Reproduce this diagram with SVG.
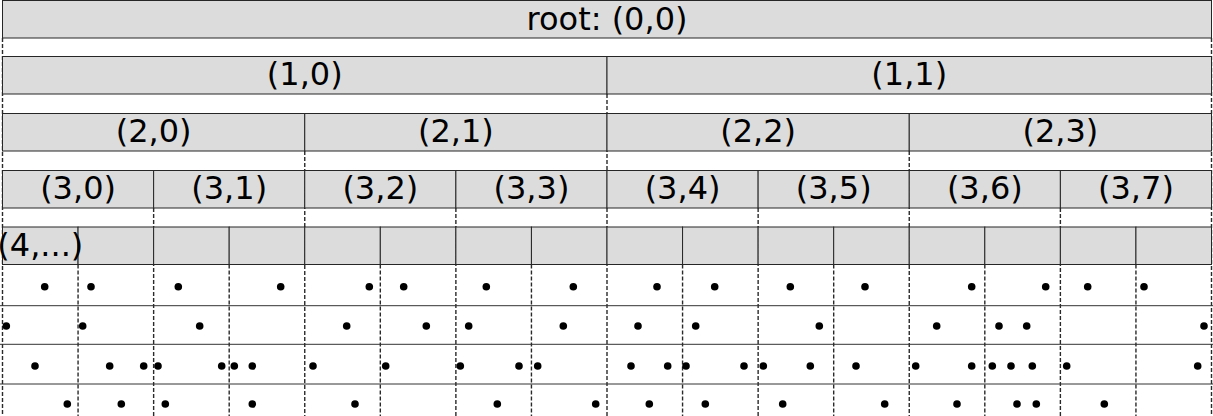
<svg xmlns="http://www.w3.org/2000/svg" width="1213" height="416" viewBox="0 0 1213 416">
<style>
.node rect{fill:#dcdcdc;stroke:#262626;stroke-width:1}
.node text{font-family:"DejaVu Sans",sans-serif;font-size:32px;text-anchor:middle;fill:#000}
.grid line{stroke:#333;stroke-width:1}
.grid line.d{stroke:#2a2a2a;stroke-width:1.4;stroke-dasharray:4 2}
.pts circle{fill:#000}
</style>
<rect width="1213" height="416" fill="#fff"/>
<g id="connectors" class="grid">
<line class="d" x1="2.5" y1="38" x2="2.5" y2="416"/>
<line class="d" x1="78.06" y1="264.5" x2="78.06" y2="416"/>
<line class="d" x1="153.63" y1="208" x2="153.63" y2="416"/>
<line class="d" x1="229.19" y1="264.5" x2="229.19" y2="416"/>
<line class="d" x1="304.75" y1="151" x2="304.75" y2="416"/>
<line class="d" x1="380.31" y1="264.5" x2="380.31" y2="416"/>
<line class="d" x1="455.88" y1="208" x2="455.88" y2="416"/>
<line class="d" x1="531.44" y1="264.5" x2="531.44" y2="416"/>
<line class="d" x1="607" y1="94" x2="607" y2="416"/>
<line class="d" x1="682.56" y1="264.5" x2="682.56" y2="416"/>
<line class="d" x1="758.13" y1="208" x2="758.13" y2="416"/>
<line class="d" x1="833.69" y1="264.5" x2="833.69" y2="416"/>
<line class="d" x1="909.25" y1="151" x2="909.25" y2="416"/>
<line class="d" x1="984.81" y1="264.5" x2="984.81" y2="416"/>
<line class="d" x1="1060.38" y1="208" x2="1060.38" y2="416"/>
<line class="d" x1="1135.94" y1="264.5" x2="1135.94" y2="416"/>
<line class="d" x1="1211.5" y1="38" x2="1211.5" y2="416"/>
<line x1="0" y1="305.7" x2="1213" y2="305.7"/>
<line x1="0" y1="344.3" x2="1213" y2="344.3"/>
<line x1="0" y1="384" x2="1213" y2="384"/>
</g>
<g id="n0_0" class="node"><rect x="2.5" y="0.5" width="1209" height="37.5"/><text x="607" y="29.5">root: (0,0)</text></g>
<g id="n1_0" class="node"><rect x="2.5" y="56.5" width="604.5" height="37.5"/><text x="304.75" y="85.3">(1,0)</text></g>
<g id="n1_1" class="node"><rect x="607" y="56.5" width="604.5" height="37.5"/><text x="909.25" y="85.3">(1,1)</text></g>
<g id="n2_0" class="node"><rect x="2.5" y="113.5" width="302.25" height="37.5"/><text x="153.63" y="142.3">(2,0)</text></g>
<g id="n2_1" class="node"><rect x="304.75" y="113.5" width="302.25" height="37.5"/><text x="455.88" y="142.3">(2,1)</text></g>
<g id="n2_2" class="node"><rect x="607" y="113.5" width="302.25" height="37.5"/><text x="758.13" y="142.3">(2,2)</text></g>
<g id="n2_3" class="node"><rect x="909.25" y="113.5" width="302.25" height="37.5"/><text x="1060.38" y="142.3">(2,3)</text></g>
<g id="n3_0" class="node"><rect x="2.5" y="170.5" width="151.13" height="37.5"/><text x="78.06" y="199.3">(3,0)</text></g>
<g id="n3_1" class="node"><rect x="153.63" y="170.5" width="151.13" height="37.5"/><text x="229.19" y="199.3">(3,1)</text></g>
<g id="n3_2" class="node"><rect x="304.75" y="170.5" width="151.13" height="37.5"/><text x="380.31" y="199.3">(3,2)</text></g>
<g id="n3_3" class="node"><rect x="455.88" y="170.5" width="151.13" height="37.5"/><text x="531.44" y="199.3">(3,3)</text></g>
<g id="n3_4" class="node"><rect x="607" y="170.5" width="151.13" height="37.5"/><text x="682.56" y="199.3">(3,4)</text></g>
<g id="n3_5" class="node"><rect x="758.13" y="170.5" width="151.13" height="37.5"/><text x="833.69" y="199.3">(3,5)</text></g>
<g id="n3_6" class="node"><rect x="909.25" y="170.5" width="151.13" height="37.5"/><text x="984.81" y="199.3">(3,6)</text></g>
<g id="n3_7" class="node"><rect x="1060.38" y="170.5" width="151.13" height="37.5"/><text x="1135.94" y="199.3">(3,7)</text></g>
<g id="n4_0" class="node"><rect x="2.5" y="227" width="75.56" height="37.5"/></g>
<g id="n4_1" class="node"><rect x="78.06" y="227" width="75.56" height="37.5"/></g>
<g id="n4_2" class="node"><rect x="153.63" y="227" width="75.56" height="37.5"/></g>
<g id="n4_3" class="node"><rect x="229.19" y="227" width="75.56" height="37.5"/></g>
<g id="n4_4" class="node"><rect x="304.75" y="227" width="75.56" height="37.5"/></g>
<g id="n4_5" class="node"><rect x="380.31" y="227" width="75.56" height="37.5"/></g>
<g id="n4_6" class="node"><rect x="455.88" y="227" width="75.56" height="37.5"/></g>
<g id="n4_7" class="node"><rect x="531.44" y="227" width="75.56" height="37.5"/></g>
<g id="n4_8" class="node"><rect x="607" y="227" width="75.56" height="37.5"/></g>
<g id="n4_9" class="node"><rect x="682.56" y="227" width="75.56" height="37.5"/></g>
<g id="n4_10" class="node"><rect x="758.13" y="227" width="75.56" height="37.5"/></g>
<g id="n4_11" class="node"><rect x="833.69" y="227" width="75.56" height="37.5"/></g>
<g id="n4_12" class="node"><rect x="909.25" y="227" width="75.56" height="37.5"/></g>
<g id="n4_13" class="node"><rect x="984.81" y="227" width="75.56" height="37.5"/></g>
<g id="n4_14" class="node"><rect x="1060.38" y="227" width="75.56" height="37.5"/></g>
<g id="n4_15" class="node"><rect x="1135.94" y="227" width="75.56" height="37.5"/></g>
<g id="n4_label" class="node"><text x="40.3" y="256">(4,...)</text></g>
<g id="points" class="pts">
<circle cx="44.7" cy="286.7" r="3.8"/><circle cx="91" cy="286.7" r="3.8"/><circle cx="178.3" cy="286.7" r="3.8"/><circle cx="280.7" cy="286.7" r="3.8"/>
<circle cx="369.3" cy="286.7" r="3.8"/><circle cx="403.7" cy="286.7" r="3.8"/><circle cx="486.3" cy="286.7" r="3.8"/><circle cx="573.3" cy="286.7" r="3.8"/>
<circle cx="657" cy="286.7" r="3.8"/><circle cx="714.7" cy="286.7" r="3.8"/><circle cx="790.3" cy="286.7" r="3.8"/><circle cx="865" cy="286.7" r="3.8"/>
<circle cx="971.7" cy="286.7" r="3.8"/><circle cx="1045.7" cy="286.7" r="3.8"/><circle cx="1087.7" cy="286.7" r="3.8"/><circle cx="1144" cy="286.7" r="3.8"/>
<circle cx="6.3" cy="326" r="3.8"/><circle cx="82.7" cy="326" r="3.8"/><circle cx="199.7" cy="326" r="3.8"/><circle cx="346.7" cy="326" r="3.8"/>
<circle cx="426.3" cy="326" r="3.8"/><circle cx="468.7" cy="326" r="3.8"/><circle cx="563.3" cy="326" r="3.8"/><circle cx="638" cy="326" r="3.8"/>
<circle cx="695.7" cy="326" r="3.8"/><circle cx="819.3" cy="326" r="3.8"/><circle cx="936.7" cy="326" r="3.8"/><circle cx="999" cy="326" r="3.8"/>
<circle cx="1026.7" cy="326" r="3.8"/><circle cx="1204" cy="326" r="3.8"/>
<circle cx="35" cy="366" r="3.8"/><circle cx="109.7" cy="366" r="3.8"/><circle cx="143.7" cy="366" r="3.8"/><circle cx="158" cy="366" r="3.8"/>
<circle cx="221.7" cy="366" r="3.8"/><circle cx="234.3" cy="366" r="3.8"/><circle cx="252.3" cy="366" r="3.8"/><circle cx="313" cy="366" r="3.8"/>
<circle cx="385.7" cy="366" r="3.8"/><circle cx="460.3" cy="366" r="3.8"/><circle cx="519" cy="366" r="3.8"/><circle cx="537.7" cy="366" r="3.8"/>
<circle cx="631" cy="366" r="3.8"/><circle cx="667.7" cy="366" r="3.8"/><circle cx="686" cy="366" r="3.8"/><circle cx="744" cy="366" r="3.8"/>
<circle cx="763.3" cy="366" r="3.8"/><circle cx="810.3" cy="366" r="3.8"/><circle cx="856" cy="366" r="3.8"/><circle cx="915.7" cy="366" r="3.8"/>
<circle cx="971.7" cy="366" r="3.8"/><circle cx="992.3" cy="366" r="3.8"/><circle cx="1011" cy="366" r="3.8"/><circle cx="1032.3" cy="366" r="3.8"/>
<circle cx="1066.7" cy="366" r="3.8"/><circle cx="1197.7" cy="366" r="3.8"/>
<circle cx="67.3" cy="404" r="3.8"/><circle cx="121.3" cy="404" r="3.8"/><circle cx="165.3" cy="404" r="3.8"/><circle cx="252.3" cy="404" r="3.8"/>
<circle cx="355" cy="404" r="3.8"/><circle cx="497.3" cy="404" r="3.8"/><circle cx="595.7" cy="404" r="3.8"/><circle cx="649.3" cy="404" r="3.8"/>
<circle cx="705.3" cy="404" r="3.8"/><circle cx="782.7" cy="404" r="3.8"/><circle cx="884.7" cy="404" r="3.8"/><circle cx="957" cy="404" r="3.8"/>
<circle cx="1017" cy="404" r="3.8"/><circle cx="1036.3" cy="404" r="3.8"/><circle cx="1104.3" cy="404" r="3.8"/>
</g>
</svg>
